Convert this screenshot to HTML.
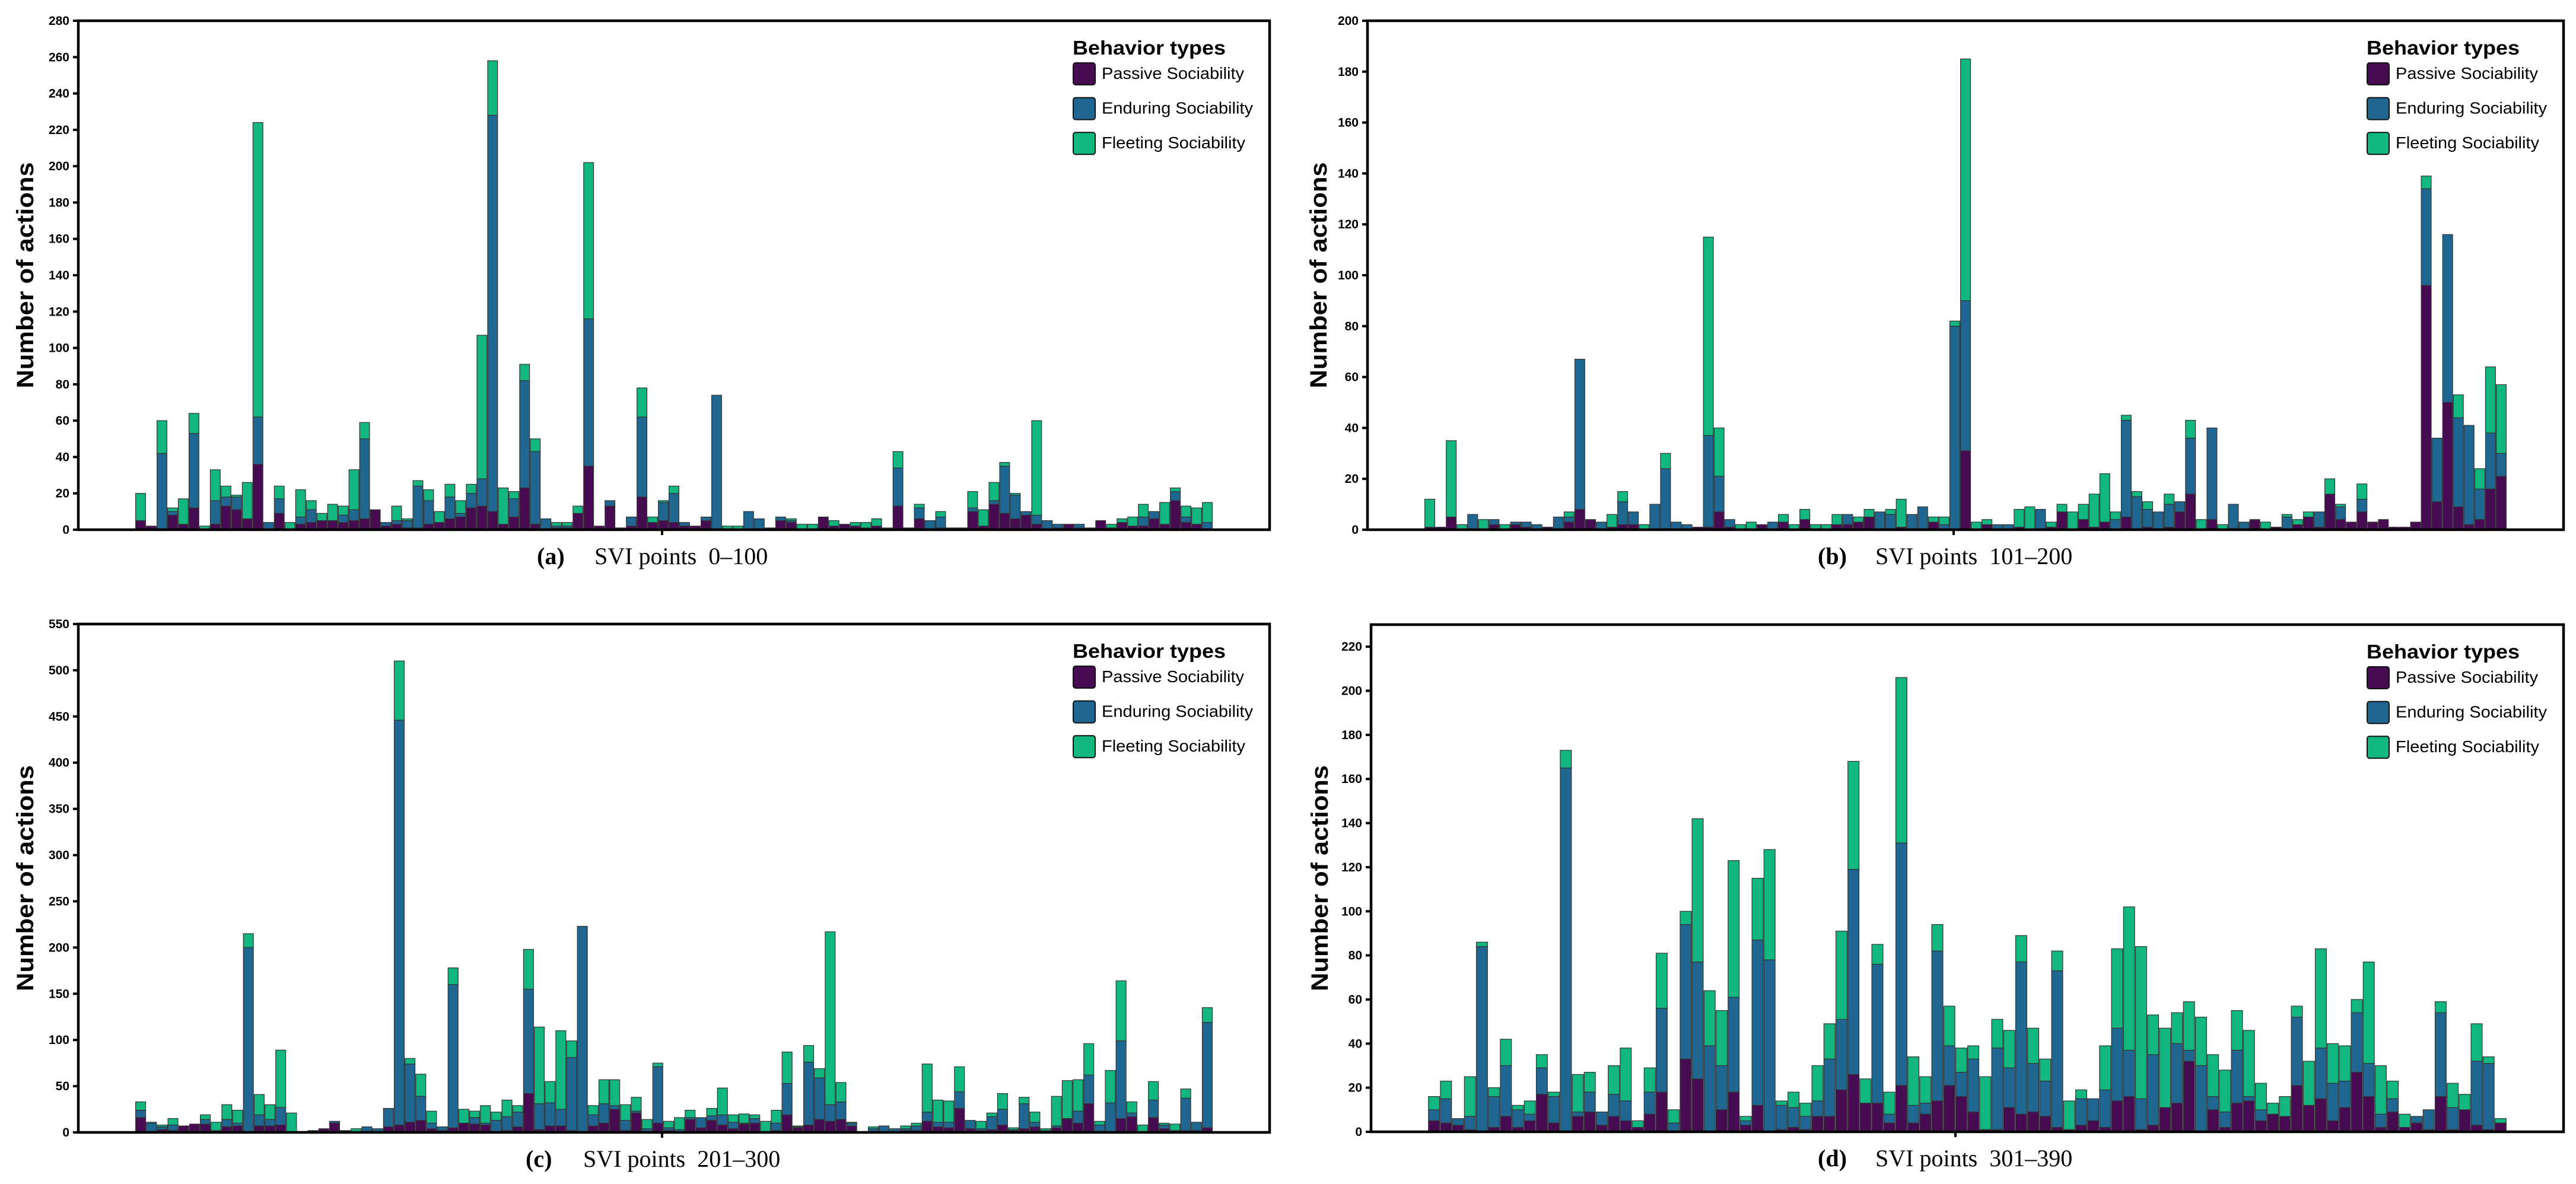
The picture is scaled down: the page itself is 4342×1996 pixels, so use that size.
<!DOCTYPE html>
<html>
<head>
<meta charset="utf-8">
<style>
html,body{margin:0;padding:0;background:#fff;}
svg{display:block;}
</style>
</head>
<body>
<svg id="fig" xmlns="http://www.w3.org/2000/svg" width="4342" height="1996" viewBox="0 0 4342 1996">
<rect x="0" y="0" width="4342" height="1996" fill="#fff"/>
</svg>
<script>
// ---- Panel (a) SVI points 0–100 ----
const aPassive  = [5,2,0,8,3,12,0,3,13,11,6,36,0,9,0,3,4,5,5,4,5,6,11,2,3,1,1,3,4,6,7,12,13,10,3,7,23,3,0,1,1,9,35,2,13,1,2,18,4,5,4,2,2,5,0,0,0,0,0,1,5,4,0,0,7,2,3,2,1,2,0,13,1,6,0,1,1,1,10,2,14,9,6,8,3,0,1,3,1,1,5,1,4,2,2,6,3,16,4,3,0];
const aEnduring = [0,0,42,2,0,41,0,13,5,7,0,26,4,8,0,4,7,0,0,4,6,44,0,2,2,4,23,13,0,12,2,8,15,218,0,10,59,40,6,1,1,0,81,0,3,0,5,44,0,10,16,2,0,2,74,0,0,10,6,0,2,1,0,0,0,0,0,0,0,0,0,21,0,6,5,6,0,0,2,0,2,26,13,2,5,5,2,0,2,0,0,0,0,0,5,4,0,5,3,0,4];
const aFleeting = [15,0,18,2,14,11,2,17,6,1,20,162,0,7,4,15,5,4,9,5,22,9,0,0,8,1,3,6,6,7,7,5,79,30,20,4,9,7,0,2,2,4,86,0,0,0,0,16,3,1,4,0,0,0,0,2,2,0,0,0,0,1,3,3,0,3,0,2,3,4,1,9,0,2,0,3,0,0,9,9,10,2,1,0,52,0,0,0,0,0,0,2,2,5,7,0,12,2,6,9,11];
const aTicks = [0,20,40,60,80,100,120,140,160,180,200,220,240,260,280];

// ---- Panel (b) SVI points 101–200 ----
const bPassive  = [1,1,5,0,0,0,2,0,2,1,0,1,0,3,8,4,0,1,2,2,0,0,0,0,0,1,1,7,1,0,0,2,0,3,0,4,0,0,2,2,3,5,0,0,1,0,0,3,0,0,31,0,2,0,0,1,0,0,1,7,0,4,1,3,0,5,0,1,0,1,7,14,0,4,0,0,0,4,0,1,0,2,5,1,14,4,3,7,3,4,1,1,3,96,11,50,9,2,4,16,21];
const bEnduring = [0,0,0,0,6,0,2,0,1,2,2,0,5,2,59,0,3,0,9,5,0,10,24,3,2,0,36,14,3,0,0,0,3,0,0,0,0,0,0,4,0,0,7,6,0,6,9,0,2,80,59,0,0,2,2,0,0,8,0,0,0,0,0,0,4,38,13,7,7,9,4,22,0,36,0,10,3,0,0,0,5,0,0,6,0,5,0,5,0,0,0,0,0,38,25,66,35,39,12,22,9];
const bFleeting = [11,0,30,2,0,4,0,2,0,0,0,0,0,2,0,0,0,5,4,0,2,0,6,0,0,0,78,19,0,2,3,0,0,3,2,4,2,2,4,0,2,3,0,2,11,0,0,2,3,2,95,3,2,0,0,7,9,0,2,3,7,6,13,19,3,2,2,3,0,4,0,7,4,0,2,0,0,0,3,0,1,2,2,0,6,1,0,6,0,0,0,0,0,5,0,0,9,0,8,26,27];
const bTicks = [0,20,40,60,80,100,120,140,160,180,200];

// ---- Panel (c) SVI points 201–300 ----
const cPassive  = [16,1,3,2,7,9,9,2,6,7,0,7,7,8,0,1,0,4,10,1,0,0,0,6,8,11,13,4,2,5,10,9,8,0,2,6,42,3,7,7,2,1,7,10,25,2,21,1,10,2,1,14,5,13,8,4,9,10,0,2,19,5,8,14,12,14,7,0,0,0,0,2,2,12,6,5,26,4,2,3,8,2,4,6,0,5,15,10,31,1,0,15,17,0,16,4,2,2,2,5];
const cEnduring = [8,9,3,6,0,0,5,0,8,3,200,12,7,19,0,0,2,0,2,1,0,6,4,20,438,63,26,6,4,155,0,7,2,13,15,16,113,28,25,18,79,222,12,21,4,11,2,3,61,3,2,2,11,5,11,7,1,5,0,8,34,1,68,45,18,19,3,0,4,7,4,2,5,10,5,6,18,9,2,14,17,1,27,5,2,2,0,13,31,7,32,84,4,0,19,4,0,35,9,114];
const cFleeting = [9,1,2,7,0,0,5,9,16,14,15,22,16,62,21,0,0,0,0,0,4,0,0,0,64,6,24,13,0,18,15,7,19,9,18,7,43,83,23,85,18,0,10,26,28,17,15,10,4,7,13,8,0,8,29,8,10,4,12,14,34,1,18,10,187,21,1,0,2,0,0,3,3,52,24,23,27,0,8,4,17,2,7,11,2,32,41,34,34,4,35,65,12,8,20,2,7,10,0,16];
const cTicks = [0,50,100,150,200,250,300,350,400,450,500,550];

// ---- Panel (d) SVI points 301–390 ----
const dPassive  = [5,4,3,1,0,2,7,2,5,17,4,0,7,9,3,7,5,2,8,18,0,33,24,0,10,18,3,12,0,1,2,1,7,7,19,26,13,13,4,21,4,8,14,21,16,9,1,1,11,8,9,7,2,1,3,5,2,14,16,1,3,11,13,32,0,10,2,13,14,5,8,7,21,12,15,5,11,27,16,2,9,2,4,1,16,1,10,3,1,4];
const dEnduring = [5,11,3,6,84,14,23,8,3,12,12,165,2,9,6,10,9,0,10,38,4,61,53,39,20,43,2,75,78,11,9,6,7,26,32,93,0,63,4,110,8,5,68,18,11,24,0,37,18,69,22,16,71,0,12,10,17,33,21,14,32,0,27,5,30,6,7,24,2,5,0,0,31,0,23,17,12,27,15,6,6,0,3,9,38,10,0,29,30,0];
const dFleeting = [6,8,0,18,2,4,12,2,6,6,2,8,17,9,0,13,24,3,11,25,6,6,65,25,25,62,2,28,50,2,7,6,16,16,40,49,11,9,10,75,22,12,12,18,11,6,24,13,17,12,16,10,9,13,4,0,20,36,65,69,18,36,14,22,22,19,19,18,30,12,5,9,5,20,45,18,16,6,46,22,8,6,0,0,5,11,7,17,3,2];
const dTicks = [0,20,40,60,80,100,120,140,160,180,200,220];

const NS = 'http://www.w3.org/2000/svg';
const svg = document.getElementById('fig');
const COLORS = ['#470b52', '#1f6690', '#12b680'];
const LEGEND_LABELS = ['Passive Sociability', 'Enduring Sociability', 'Fleeting Sociability'];
const LEGEND_LEN = [240, 255, 242];

function mk(tag, attrs, parent) {
  const el = document.createElementNS(NS, tag);
  for (const k in attrs) el.setAttribute(k, attrs[k]);
  (parent || svg).appendChild(el);
  return el;
}

function drawPanel(id, letter, range, passive, enduring, fleeting, ticks, L) {
  const g = mk('g', {});
  
  
  const n = passive.length;
  const pad = 96;
  const pitch = (L.x1 - L.x0 - 2 * pad) / n;
  const bw = pitch * 0.93;
  const maxV = ticks[ticks.length - 1] + L.extra;
  const yScale = v => L.yBot - v / maxV * (L.yBot - L.yTop);
  const xCenter = i => L.x0 + pad + (i + 0.5) * pitch;

  // bars
  const barsG = mk('g', {}, g);
  
  
  for (let i = 0; i < n; i++) {
    const vals = [passive[i], enduring[i], fleeting[i]];
    let base = 0;
    const names = ['passive', 'enduring', 'fleeting'];
    for (let s = 0; s < 3; s++) {
      if (vals[s] <= 0) continue;
      const y0 = yScale(base), y1 = yScale(base + vals[s]);
      const r = mk('rect', {x: xCenter(i) - bw / 2, y: y1, width: bw, height: y0 - y1,
        fill: COLORS[s], stroke: '#333', 'stroke-width': 1.2}, barsG);
      
      
      base += vals[s];
    }
  }

  // axes frame
  const frame = mk('rect', {x: L.x0, y: L.yTop, width: L.x1 - L.x0, height: L.yBot - L.yTop,
    fill: 'none', stroke: '#000', 'stroke-width': 4.5}, g);
  
  

  // y ticks
  const yax = mk('g', {}, g);
  
  
  ticks.forEach(t => {
    const y = yScale(t);
    mk('line', {x1: L.x0 - 9, x2: L.x0, y1: y, y2: y, stroke: '#000', 'stroke-width': 4}, yax);
    const tx = mk('text', {x: L.x0 - 15, y: y + 7, 'text-anchor': 'end',
      'font-family': '"Liberation Sans", sans-serif', 'font-weight': 'bold', 'font-size': 21, fill: '#000'}, yax);
    tx.textContent = t;
    
    
  });
  // x center tick
  const xm = (L.x0 + L.x1) / 2 - 20;
  mk('line', {x1: xm, x2: xm, y1: L.yBot, y2: L.yBot + 9, stroke: '#000', 'stroke-width': 4}, g);

  // y-axis title
  const yc = (L.yTop + L.yBot) / 2;
  const yt = mk('text', {x: L.labelX, y: yc, transform: 'rotate(-90 ' + L.labelX + ' ' + yc + ')',
    'text-anchor': 'middle', 'font-family': '"Liberation Sans", sans-serif', 'font-weight': 'bold',
    'font-size': 40, textLength: 381, lengthAdjust: 'spacingAndGlyphs', fill: '#000', dy: 14}, g);
  yt.textContent = 'Number of actions';
  
  

  // caption
  const cap = mk('text', {x: L.capX, y: L.yBot + 58, 'font-family': '"Liberation Serif", serif', 'font-size': 40, fill: '#000'}, g);
  
  
  const t1 = mk('tspan', {'font-weight': 'bold'}, cap);
  t1.textContent = '(' + letter + ')';
  const t2 = mk('tspan', {x: L.capX + 97}, cap);
  t2.textContent = 'SVI points\u00a0\u00a0' + range;

  // legend
  const lg = mk('g', {}, g);
  
  
  const lx = L.x1 - 331, ly = L.yTop;
  const lt = mk('text', {x: lx - 1, y: ly + 57, 'font-family': '"Liberation Sans", sans-serif', 'font-weight': 'bold',
    'font-size': 33, textLength: 258, lengthAdjust: 'spacingAndGlyphs', fill: '#000'}, lg);
  lt.textContent = 'Behavior types';
  
  
  for (let s = 0; s < 3; s++) {
    const sy = ly + 71 + s * 58.6;
    const sw = mk('rect', {x: lx, y: sy, width: 37, height: 37, rx: 4, fill: COLORS[s], stroke: '#111', 'stroke-width': 2}, lg);
    
    
    const te = mk('text', {x: lx + 48, y: sy + 27, 'font-family': '"Liberation Sans", sans-serif',
      'font-size': 28, textLength: LEGEND_LEN[s], lengthAdjust: 'spacingAndGlyphs', fill: '#000'}, lg);
    te.textContent = LEGEND_LABELS[s];
    
    
  }
}

drawPanel('a', 'a', '0\u2013100', aPassive, aEnduring, aFleeting, aTicks,
  {x0: 132, x1: 2140, yTop: 35, yBot: 893, extra: 0, labelX: 42, capX: 905});
drawPanel('b', 'b', '101\u2013200', bPassive, bEnduring, bFleeting, bTicks,
  {x0: 2305, x1: 4321, yTop: 35, yBot: 893, extra: 0, labelX: 2222, capX: 3064});
drawPanel('c', 'c', '201\u2013300', cPassive, cEnduring, cFleeting, cTicks,
  {x0: 132, x1: 2140, yTop: 1052, yBot: 1909, extra: 0, labelX: 42, capX: 886});
drawPanel('d', 'd', '301\u2013390', dPassive, dEnduring, dFleeting, dTicks,
  {x0: 2311, x1: 4321, yTop: 1053, yBot: 1908, extra: 10, labelX: 2224, capX: 3064});
</script>
</body>
</html>
